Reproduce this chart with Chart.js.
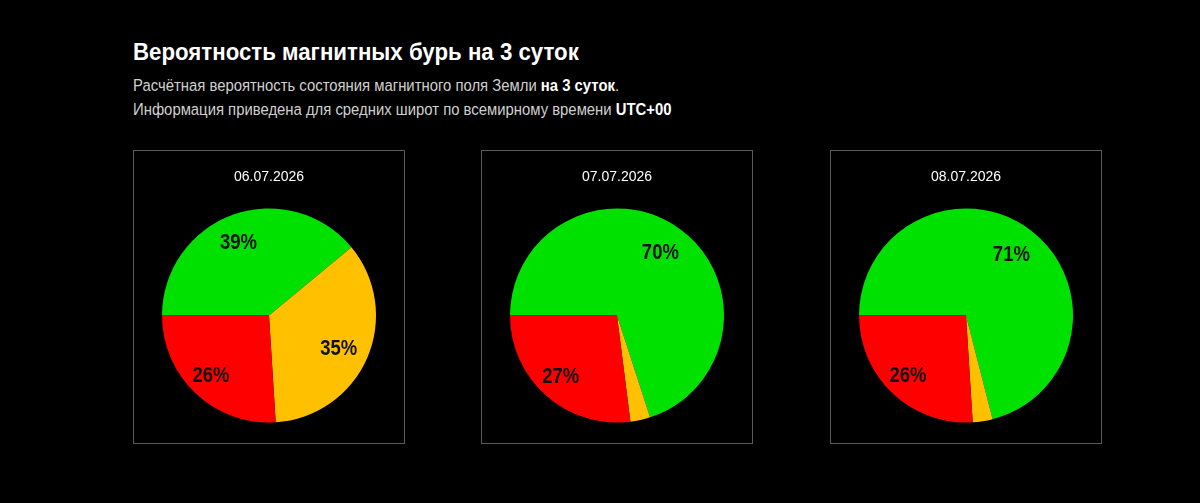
<!DOCTYPE html>
<html lang="ru">
<head>
<meta charset="utf-8">
<title>Вероятность магнитных бурь на 3 суток</title>
<script src="https://cdn.jsdelivr.net/npm/chart.js@4.4.1/dist/chart.umd.min.js"></script>
<style>
  html, body { margin: 0; padding: 0; background: #000; }
  body { width: 1200px; height: 503px; position: relative; overflow: hidden; font-family: "Liberation Sans", Arial, sans-serif; }
  h1 { position: absolute; left: 133px; top: 38px; margin: 0; color: #fff; font-size: 22.25px; font-weight: bold; transform: scaleY(1.08); transform-origin: left top; }
  .sub { position: absolute; left: 133px; margin: 0; color: #d0d0d0; font-size: 14.87px; transform: scaleY(1.08); transform-origin: left top; }
  .sub b { color: #fff; }
  .panel { position: absolute; top: 150px; width: 272px; height: 294px; box-sizing: border-box; border: 1px solid #5a5a5a; }
  .panel canvas { position: absolute; left: -1px; top: -1px; }
</style>
</head>
<body>
<h1>Вероятность магнитных бурь на 3 суток</h1>
<p class="sub" style="top:77px">Расчётная вероятность состояния магнитного поля Земли <b>на 3 суток</b>.</p>
<p class="sub" style="top:101px">Информация приведена для средних широт по всемирному времени <b>UTC+00</b></p>

<div class="panel" style="left:133px"><canvas id="pie0" width="272" height="294"></canvas></div>
<div class="panel" style="left:481px"><canvas id="pie1" width="272" height="294"></canvas></div>
<div class="panel" style="left:830px"><canvas id="pie2" width="272" height="294"></canvas></div>

<script>
(function() {
  'use strict';

  // Forecast dates and probabilities: [calm, weak storm, storm]
  const dates = ['06.07.2026', '07.07.2026', '08.07.2026'];
  const calm = [39, 70, 71];
  const unsettled = [35, 3, 3];
  const storm = [26, 27, 26];
  const colors = ['#00e100', '#ffc000', '#ff0000'];

  // Percent labels inside slices (hidden for tiny ones), drawn slightly tall/narrow like the original
  const sliceLabels = {
    id: 'sliceLabels',
    afterDatasetsDraw(chart) {
      const ctx = chart.ctx;
      const meta = chart.getDatasetMeta(0);
      const values = chart.data.datasets[0].data;
      meta.data.forEach((arc, i) => {
        if (values[i] < 10) return;
        const mid = (arc.startAngle + arc.endAngle) / 2;
        const r = arc.outerRadius * 0.745;
        ctx.save();
        // the original sits its labels a little left of and below the slice centroid
        ctx.translate(arc.x + Math.cos(mid) * r - 3.5, arc.y + Math.sin(mid) * r + 2);
        ctx.scale(1, 1.18);
        ctx.fillStyle = '#111';
        ctx.font = 'bold 18.5px "Liberation Sans", Arial, sans-serif';
        ctx.textAlign = 'center';
        ctx.textBaseline = 'middle';
        ctx.fillText(values[i] + '%', 0, 0);
        ctx.restore();
      });
    }
  };

  dates.forEach((date, i) => {
    const ctx = document.getElementById('pie' + i).getContext('2d');
    new Chart(ctx, {
      type: 'pie',
      data: {
        labels: ['Спокойно', 'Возмущение', 'Буря'],
        datasets: [{
          data: [calm[i], unsettled[i], storm[i]],
          backgroundColor: colors,
          borderWidth: 0
        }]
      },
      options: {
        responsive: false,
        animation: false,
        rotation: 270,
        layout: { padding: { left: 29, right: 29, top: 0, bottom: 21.5 } },
        plugins: {
          legend: { display: false },
          tooltip: { enabled: false },
          title: {
            display: true,
            text: date,
            color: '#fff',
            font: { size: 14, weight: 'normal', family: '"Liberation Sans", Arial, sans-serif' },
            padding: { top: 19, bottom: 22.7 }
          }
        }
      },
      plugins: [sliceLabels]
    });
  });
})();
</script>
</body>
</html>
